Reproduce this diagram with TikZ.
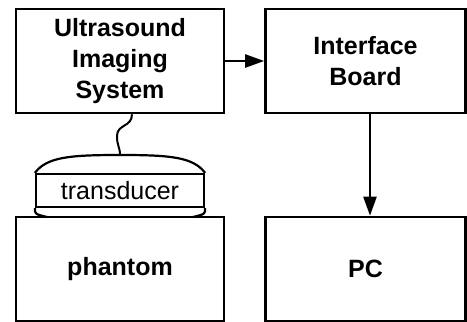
\documentclass[tikz,border=0pt]{standalone}
\usepackage{fontspec}
\setmainfont{Liberation Sans}
\usetikzlibrary{arrows.meta}

\begin{document}
\begin{tikzpicture}[x=1pt,y=1pt,
	block/.style={draw,line width=2.6pt,minimum height=104pt,align=center,font=\fontsize{25}{31}\selectfont\bfseries},
	probe/.style={line width=2.2pt},
	link/.style={line width=2.4pt,-{Triangle[length=19pt,width=13pt]}}]
	\useasboundingbox (0,0) rectangle (467,322);
	\node[block,minimum width=208pt] (usi) at (120,261) {Ultrasound\\Imaging\\System};
	\node[block,minimum width=200pt] (ib) at (365.5,261) {Interface\\Board};
	\node[block,minimum width=208pt] (phantom) at (120,53) {phantom};
	\node[block,minimum width=200pt] (pc) at (365.5,53) {PC};
	\node[draw,probe,minimum width=168pt,minimum height=33pt,inner sep=0pt,font=\fontsize{25}{30}\selectfont] (tr) at (120,131.5) {transducer};
	\coordinate (tip) at (120,167);
	\draw[probe] (tr.north west) .. controls +(12,16) and +(-50,0) .. (tip) .. controls +(50,0) and +(-12,16) .. (tr.north east);
	\draw[probe] (tr.south west) .. controls +(0,-6) .. (47,105);
	\draw[probe] (tr.south east) .. controls +(0,-6) .. (193,105);
	\draw[line width=2pt] ([xshift=12pt]usi.south) .. controls +(0,-13) and +(0,12) .. (117,186) .. controls +(0,-10) and +(0,8) .. (tip);
	\draw[link] (usi) -- (ib);
	\draw[link] ([xshift=4.5pt]ib.south) -- ([xshift=4.5pt]pc.north);
\end{tikzpicture}
\end{document}
